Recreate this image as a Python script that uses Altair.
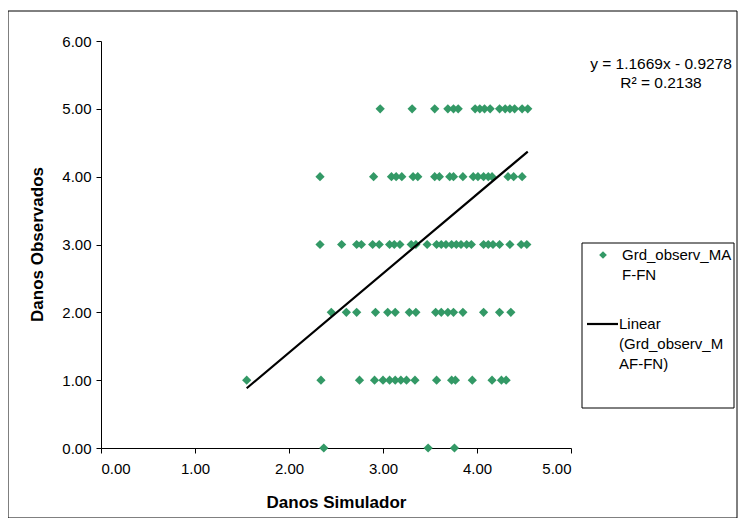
import altair as alt
import pandas as pd

row5 = [2.97, 3.31, 3.55, 3.69, 3.75, 3.80, 3.98, 4.03, 4.08, 4.14, 4.24, 4.30, 4.35, 4.40, 4.48, 4.54]
row4 = [2.33, 2.90, 3.09, 3.14, 3.20, 3.32, 3.37, 3.55, 3.60, 3.71, 3.75, 3.85, 3.96, 4.01, 4.07,
        4.12, 4.16, 4.33, 4.39, 4.48]
row3 = [2.33, 2.56, 2.72, 2.77, 2.89, 2.96, 3.07, 3.12, 3.18, 3.30, 3.35, 3.47, 3.57, 3.62, 3.67,
        3.73, 3.78, 3.83, 3.89, 3.94, 4.07, 4.12, 4.17, 4.24, 4.35, 4.47, 4.53]
row2 = [2.45, 2.61, 2.72, 2.92, 3.05, 3.13, 3.28, 3.35, 3.56, 3.62, 3.69, 3.75, 3.85, 4.07, 4.24, 4.36]
row1 = [1.55, 2.34, 2.75, 2.91, 3.00, 3.07, 3.13, 3.19, 3.25, 3.34, 3.57, 3.73, 3.77, 3.95, 4.16,
        4.26, 4.31]
row0 = [2.37, 3.48, 3.76]

slope = 1.1669
intercept = -0.9278
eq_text = "y = 1.1669x - 0.9278"
r2_text = "R² = 0.2138"
series_name = "Grd_observ_MAF-FN"
x_ticks = [0, 1, 2, 3, 4, 5]
y_ticks = [0, 1, 2, 3, 4, 5, 6]

rows = {5: row5, 4: row4, 3: row3, 2: row2, 1: row1, 0: row0}
pts = pd.DataFrame([{"x": x, "y": y} for y, xs in rows.items() for x in xs])
xmin, xmax = pts["x"].min(), pts["x"].max()
line_df = pd.DataFrame({"x": [xmin, xmax], "y": [slope * xmin + intercept, slope * xmax + intercept]})
one = pd.DataFrame({"a": [0]})

FONT = "Liberation Sans"
GREEN = "#339966"

xs = alt.Scale(domain=[0, 5], nice=False, zero=True)
ys = alt.Scale(domain=[0, 6], nice=False, zero=True)

x_axis = alt.Axis(values=x_ticks, format=".2f", grid=False, title="Danos Simulador",
                  domainColor="black", tickColor="black", tickSize=5, labelFontSize=15,
                  labelFont=FONT, labelColor="black", labelPadding=8,
                  titleFont=FONT, titleFontSize=17, titleFontWeight="bold", titleColor="black",
                  titleX=235, titleY=54, titleBaseline="middle")
y_axis = alt.Axis(values=y_ticks, format=".2f", grid=False, title="Danos Observados",
                  domainColor="black", tickColor="black", tickSize=5, labelFontSize=15,
                  labelFont=FONT, labelColor="black", labelPadding=5,
                  titleFont=FONT, titleFontSize=17, titleFontWeight="bold", titleColor="black",
                  titleX=-64, titleY=203, titleBaseline="middle", titleAngle=270)

points = alt.Chart(pts).mark_point(shape="diamond", filled=True, size=85, color=GREEN, opacity=1).encode(
    x=alt.X("x:Q", scale=xs, axis=x_axis),
    y=alt.Y("y:Q", scale=ys, axis=y_axis),
)
trend = alt.Chart(line_df).mark_line(color="black", strokeWidth=2.2).encode(
    x=alt.X("x:Q", scale=xs),
    y=alt.Y("y:Q", scale=ys),
)

eq = alt.Chart(one).mark_text(font=FONT, fontSize=15.5, color="black", align="center",
                              baseline="middle", lineBreak="\n", lineHeight=19).encode(
    x=alt.value(560), y=alt.value(23), text=alt.value(eq_text + "\n" + r2_text))

border = alt.Chart(one).mark_rect(fill=None, stroke="black", strokeWidth=1).encode(
    x=alt.value(-93), x2=alt.value(636), y=alt.value(-30), y2=alt.value(477))

leg_box = alt.Chart(one).mark_rect(fill="white", stroke="black", strokeWidth=1).encode(
    x=alt.value(481), x2=alt.value(633), y=alt.value(202), y2=alt.value(367))
leg_pt = alt.Chart(one).mark_point(shape="diamond", filled=True, size=60, color=GREEN, opacity=1).encode(
    x=alt.value(502), y=alt.value(214))
leg_line = alt.Chart(one).mark_rule(color="black", strokeWidth=2.2).encode(
    x=alt.value(486), x2=alt.value(517), y=alt.value(283))
name_a = series_name[:13] + "\n" + series_name[13:]
name_b = "Linear\n(" + series_name[:12] + "\n" + series_name[12:] + ")"
leg_t1 = alt.Chart(one).mark_text(font=FONT, fontSize=15, color="black", align="left",
                                  baseline="middle", lineBreak="\n", lineHeight=20).encode(
    x=alt.value(521), y=alt.value(214), text=alt.value(name_a))
leg_t2 = alt.Chart(one).mark_text(font=FONT, fontSize=15, color="black", align="left",
                                  baseline="middle", lineBreak="\n", lineHeight=20).encode(
    x=alt.value(518), y=alt.value(283), text=alt.value(name_b))

chart = alt.layer(points, trend, eq, border, leg_box, leg_pt, leg_line, leg_t1, leg_t2).properties(
    width=470, height=407,
    autosize=alt.AutoSizeParams(type="none"),
    padding={"left": 93, "top": 33, "right": 167, "bottom": 70},
    background="white",
).configure_view(stroke=None)

chart.save("out.html", embed_options={"renderer": "svg", "actions": False})
